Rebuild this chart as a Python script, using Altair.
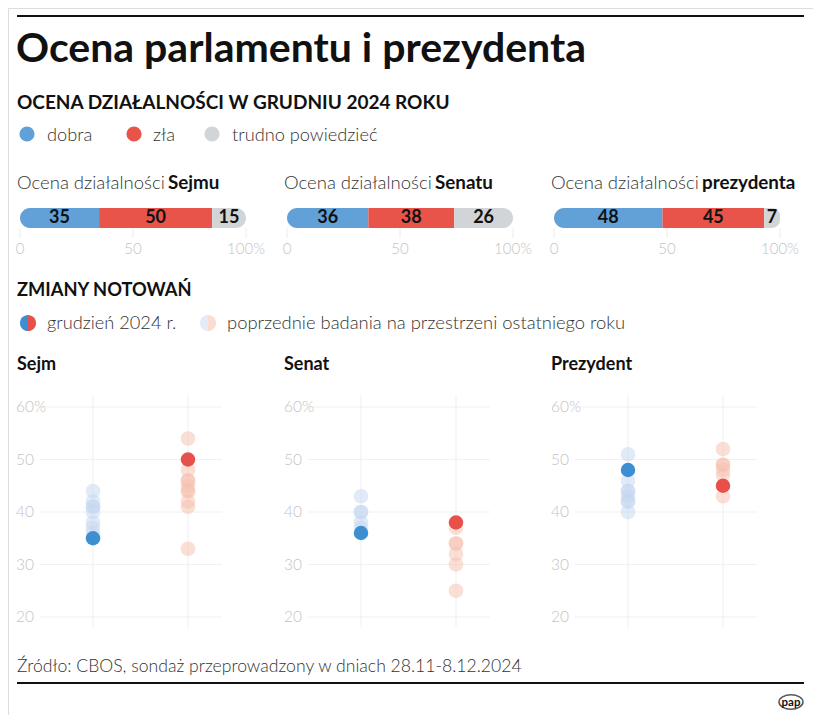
import altair as alt
import pandas as pd

# ---------------- data ----------------
categories = ["dobra", "zła", "trudno powiedzieć"]
bar_panels = ["Sejmu", "Senatu", "prezydenta"]
bar_values = {
    "Sejmu": [35, 50, 15],
    "Senatu": [36, 38, 26],
    "prezydenta": [48, 45, 7],
}
axis_ticks = [0, 50, 100]
axis_tick_labels = ["0", "50", "100%"]

dot_panels = ["Sejm", "Senat", "Prezydent"]
current_dobra = [35, 36, 48]
current_zla = [50, 38, 45]
prev_dobra = [
    [44, 42, 41, 41, 40, 38, 37, 36],
    [43, 40, 40, 38, 37],
    [51, 46, 44, 44, 43, 42, 42, 40],
]
prev_zla = [
    [54, 48, 46, 46, 45, 44, 44, 42, 41, 33],
    [37, 34, 34, 32, 30, 25],
    [52, 49, 49, 48, 47, 43],
]
y_ticks = [20, 30, 40, 50, 60]
y_tick_labels = ["20", "30", "40", "50", "60%"]

# ---------------- style ----------------
FONT = "Lato"
W, H = 805, 707
M = 8  # page margin
BAR_COLORS = ["#62a1d8", "#e8534a", "#d2d5d8"]
DOT_BLUE, DOT_RED = "#3d8fd1", "#e8504a"
PREV_BLUE, PREV_RED = "#c4d6ef", "#f6bfad"
TEXT = "#333333"
AXIS_TEXT = "#c4c4c4"


def px(x):
    return x - M


def py(y):
    return y - M


def text(t, x, y, size, weight="normal", color=TEXT, align="left", baseline="alphabetic"):
    return alt.Chart(pd.DataFrame({"t": [t]})).mark_text(
        align=align, baseline=baseline, fontSize=size, fontWeight=weight,
        color=color, font=FONT
    ).encode(x=alt.value(px(x)), y=alt.value(py(y)), text="t:N")


def hrule(x1, x2, y, width=2, color="#111111"):
    return alt.Chart(pd.DataFrame({"a": [0]})).mark_rule(
        color=color, strokeWidth=width
    ).encode(x=alt.value(px(x1)), x2=alt.value(px(x2)), y=alt.value(py(y)))


def symbol(x, y, color, size, shape="circle", opacity=1.0):
    return alt.Chart(pd.DataFrame({"a": [0]})).mark_point(
        shape=shape, filled=True, color=color, size=size, opacity=opacity, strokeWidth=0
    ).encode(x=alt.value(px(x)), y=alt.value(py(y)))


layers = []

# ---------------- header ----------------
layers.append(hrule(17, 804, 16))
layers.append(text("Ocena parlamentu i prezydenta", 16, 62, 41, weight="bold", color="#111111"))
layers.append(text("OCENA DZIAŁALNOŚCI W GRUDNIU 2024 ROKU", 17, 109, 19, weight="bold", color="#111111"))

leg_x = [27, 134, 212]
leg_tx = [47, 153, 232]
for i, c in enumerate(categories):
    layers.append(symbol(leg_x[i], 134, BAR_COLORS[i], 230))
    layers.append(text(c, leg_tx[i], 141, 18.2, weight=300))

# ---------------- stacked bars ----------------
bar_off = [0, 267, 534]
for i, p in enumerate(bar_panels):
    off = bar_off[i]
    xs = alt.Scale(domain=[0, 100], range=[px(20 + off), px(246 + off)])
    ys = alt.Scale(domain=[0, 1], range=[py(228), py(208)])
    df = pd.DataFrame({
        "panel": p,
        "cat": categories,
        "value": bar_values[p],
        "order": [0, 1, 2],
    })
    base = alt.Chart(df).transform_stack(
        stack="value", groupby=["panel"], as_=["s0", "s1"],
        sort=[alt.SortField("order", order="ascending")]
    )
    corner = [
        dict(cornerRadiusTopLeft=10, cornerRadiusBottomLeft=10),
        dict(),
        dict(cornerRadiusTopRight=10, cornerRadiusBottomRight=10),
    ]
    sub = []
    tdf = pd.DataFrame({"v": axis_ticks, "lab": axis_tick_labels})
    sub.append(alt.Chart(tdf).mark_rule(color="#ececec", strokeWidth=1).encode(
        x=alt.X("v:Q", scale=xs, axis=None),
        y=alt.YDatum(0, scale=ys, axis=None),
        y2=alt.Y2Datum(-0.5),
    ))
    sub.append(alt.Chart(tdf).mark_text(
        font=FONT, fontSize=15, fontWeight=300, color=AXIS_TEXT, baseline="alphabetic"
    ).encode(
        x=alt.X("v:Q", scale=xs, axis=None),
        y=alt.YDatum(-1.3, scale=ys, axis=None),
        text="lab:N",
    ))
    for j in range(3):
        sub.append(base.transform_filter(alt.datum.order == j).mark_bar(
            color=BAR_COLORS[j], **corner[j]
        ).encode(
            x=alt.X("s0:Q", scale=xs, axis=None),
            x2="s1:Q",
            y=alt.YDatum(0, scale=ys, axis=None),
            y2=alt.Y2Datum(1),
        ))
    sub.append(base.transform_calculate(mid="(datum.s0 + datum.s1) / 2").mark_text(
        font=FONT, fontSize=18, fontWeight="bold", color="#111111", baseline="middle"
    ).encode(
        x=alt.X("mid:Q", scale=xs, axis=None),
        y=alt.YDatum(0.5, scale=ys, axis=None),
        text="value:Q",
    ))
    layers.append(alt.layer(*sub))
    layers.append(text("Ocena działalności ", 17 + off, 189, 18.5, weight=300))
    layers.append(text(p, 168 + off, 189, 18.8, weight="bold", color="#111111"))

# ---------------- section 2 header ----------------
layers.append(text("ZMIANY NOTOWAŃ", 17, 296, 18.3, weight="bold", color="#111111"))
LEFT_HALF = "M0,-1A1,1,0,0,0,0,1Z"
RIGHT_HALF = "M0,-1A1,1,0,0,1,0,1Z"
layers.append(symbol(28, 323, DOT_BLUE, 260, shape=LEFT_HALF))
layers.append(symbol(28, 323, DOT_RED, 260, shape=RIGHT_HALF))
layers.append(text("grudzień 2024 r.", 47, 329, 18.2, weight=300))
layers.append(symbol(208, 323, "#e3ebf7", 260, shape=LEFT_HALF))
layers.append(symbol(208, 323, "#fbdcd3", 260, shape=RIGHT_HALF))
layers.append(text("poprzednie badania na przestrzeni ostatniego roku", 227, 329, 18.4, weight=300))

# ---------------- dot panels ----------------
dot_off = [0, 268, 535]
title_x = [17, 284, 551]
XMIN, XMAX = -0.558, 1.358
for i, p in enumerate(dot_panels):
    off = dot_off[i]
    xs = alt.Scale(domain=[XMIN, XMAX], range=[px(40 + off), px(222 + off)])
    ys = alt.Scale(domain=[20, 60], range=[py(617), py(407)], zero=False)
    sub = []
    gdf = pd.DataFrame({"v": y_ticks, "lab": y_tick_labels})
    sub.append(alt.Chart(gdf).mark_rule(color="#f0f1f2", strokeWidth=1).encode(
        y=alt.Y("v:Q", scale=ys, axis=None),
        x=alt.XDatum(XMIN, scale=xs, axis=None),
        x2=alt.X2Datum(XMAX),
    ))
    cdf = pd.DataFrame({"c": [0, 1]})
    sub.append(alt.Chart(cdf).mark_rule(color="#eeeff0", strokeWidth=1).encode(
        x=alt.X("c:Q", scale=xs, axis=None),
        y=alt.YDatum(18.1, scale=ys, axis=None),
        y2=alt.Y2Datum(62.3),
    ))
    sub.append(alt.Chart(gdf).mark_text(
        font=FONT, fontSize=15.5, fontWeight=300, color=AXIS_TEXT,
        align="left", baseline="middle", dx=-24
    ).encode(
        y=alt.Y("v:Q", scale=ys, axis=None),
        x=alt.XDatum(XMIN, scale=xs, axis=None),
        text="lab:N",
    ))
    pdb = pd.DataFrame({"c": 0, "v": prev_dobra[i]})
    pdz = pd.DataFrame({"c": 1, "v": prev_zla[i]})
    for dfp, col in ((pdb, PREV_BLUE), (pdz, PREV_RED)):
        sub.append(alt.Chart(dfp).mark_circle(color=col, opacity=0.5, size=215).encode(
            x=alt.X("c:Q", scale=xs, axis=None),
            y=alt.Y("v:Q", scale=ys, axis=None),
        ))
    now = pd.DataFrame({"c": [0, 1], "v": [current_dobra[i], current_zla[i]],
                        "k": ["dobra", "zła"]})
    sub.append(alt.Chart(now).mark_circle(opacity=1, size=210).encode(
        x=alt.X("c:Q", scale=xs, axis=None),
        y=alt.Y("v:Q", scale=ys, axis=None),
        color=alt.Color("k:N", scale=alt.Scale(domain=["dobra", "zła"],
                                               range=[DOT_BLUE, DOT_RED]), legend=None),
    ))
    layers.append(alt.layer(*sub))
    layers.append(text(p, title_x[i], 370, 18, weight="bold", color="#111111"))

# ---------------- footer ----------------
layers.append(text("Źródło: CBOS, sondaż przeprowadzony w dniach 28.11-8.12.2024", 17, 672, 17.6, weight=300))
layers.append(hrule(17, 804, 683))
layers.append(alt.Chart(pd.DataFrame({"a": [0]})).mark_point(
    shape="M-1,0A1,0.6,0,1,1,1,0A1,0.6,0,1,1,-1,0Z", filled=False, color="#111111",
    size=576, strokeWidth=1.5
).encode(x=alt.value(px(791)), y=alt.value(py(702))))
layers.append(text("pap", 791, 706, 11.5, weight="bold", color="#111111", align="center"))

chart = alt.layer(*layers).resolve_scale(
    x="independent", y="independent", color="independent"
).properties(
    width=W, height=H, autosize=alt.AutoSizeParams(type="none"), padding=0
).configure_view(stroke="transparent", strokeWidth=0).configure(background="white")

chart.save("out.html", embed_options={"renderer": "svg", "actions": False})
